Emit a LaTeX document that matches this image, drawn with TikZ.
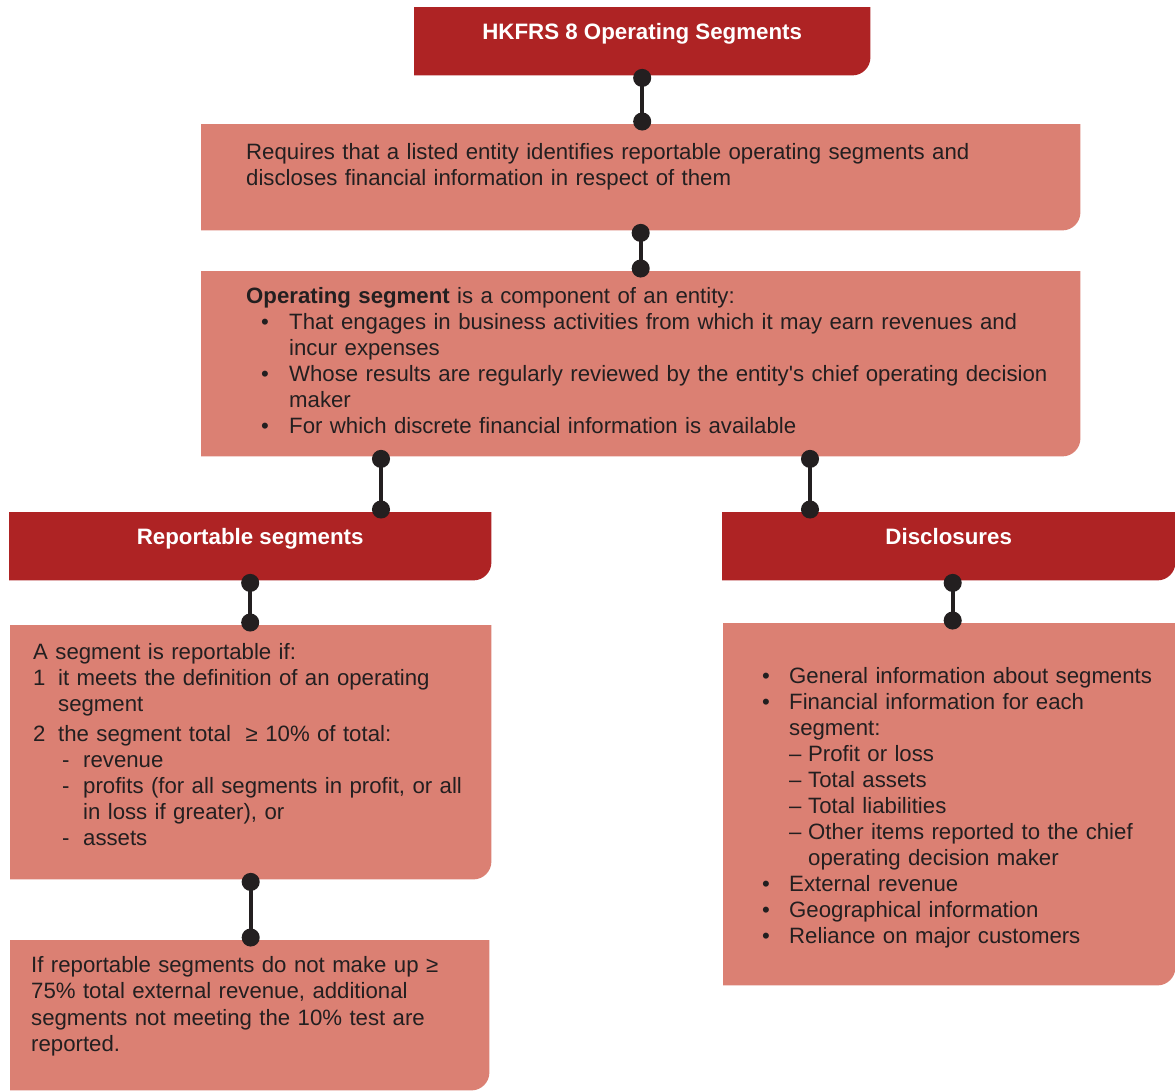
\documentclass[tikz,border=0pt]{standalone}
\usepackage{fontspec}
\setmainfont{Liberation Sans}
\usetikzlibrary{positioning,arrows.meta,backgrounds}

\definecolor{hdrred}{RGB}{174,35,36}
\definecolor{boxpink}{RGB}{219,128,115}
\definecolor{ink}{RGB}{35,31,32}

% list line with hanging indent: symbol, indent, text
\newcommand{\segitem}[3]{\par\hangindent=#2\hangafter=1\noindent\makebox[#2][l]{#1}#3}
% box fill with only the lower right corner rounded
\newcommand{\cornerfill}[2]{\fill[#2] (#1.south west) -- (#1.north west) -- (#1.north east)
  -- ([yshift=18pt]#1.south east) arc[start angle=0,end angle=-90,radius=18pt] -- cycle;}

\tikzset{
  frame/.style={anchor=north west, inner sep=0pt},
  hdr/.style={anchor=north west, inner sep=0pt, text height=32pt, text depth=36pt,
    text=white, font=\fontsize{22.3pt}{26pt}\selectfont\bfseries},
  txt/.style={anchor=north west, inner sep=0pt, align=left, text=ink,
    font=\fontsize{22.2pt}{26pt}\selectfont},
  link/.style={draw=ink, line width=4pt, {Circle[length=18pt]}-{Circle[length=18pt]},
    shorten <=-6.5pt, shorten >=-6.5pt}
}

\begin{document}
\begin{tikzpicture}[x=1pt,y=1pt]
  \useasboundingbox (0,0) rectangle (1175,-1090);

  % boxes
  \node[hdr, minimum width=456pt] (hkfrs) at (414,-7) {HKFRS 8 Operating Segments};
  \node[frame, minimum width=879pt, minimum height=106pt] (req) at (201,-124) {};
  \node[frame, minimum width=879pt, minimum height=185pt] (opseg) at (201,-271) {};
  \node[hdr, minimum width=482pt] (repseg) at (9,-512) {Reportable segments};
  \node[hdr, minimum width=453pt] (discl) at (722,-512) {Disclosures};
  \node[frame, minimum width=481pt, minimum height=254pt] (repif) at (10,-625) {};
  \node[frame, minimum width=479pt, minimum height=150pt] (extra) at (10,-940) {};
  \node[frame, minimum width=452pt, minimum height=362pt] (disclist) at (723,-623) {};

  \begin{scope}[on background layer]
    \foreach \n/\c in {hkfrs/hdrred, repseg/hdrred, discl/hdrred, req/boxpink, opseg/boxpink,
      repif/boxpink, extra/boxpink, disclist/boxpink}
      {\cornerfill{\n}{\c}}
  \end{scope}

  % texts
  \node[txt, text width=820pt] (reqtext) at ([xshift=45pt,yshift=-19pt]req.north west)
    {Requires that a listed entity identifies reportable operating segments and\\
     discloses financial information in respect of them};
  \node[txt, text width=830pt] (opsegtext) at ([xshift=45pt,yshift=-16pt]opseg.north west)
    {\textbf{Operating segment} is a component of an entity:
     \segitem{\hspace{15pt}•}{43pt}{That engages in business activities from which it may earn revenues and\newline incur expenses}
     \segitem{\hspace{15pt}•}{43pt}{Whose results are regularly reviewed by the entity\textquotesingle s chief operating decision\newline maker}
     \segitem{\hspace{15pt}•}{43pt}{For which discrete financial information is available}};
  \node[txt, text width=450pt] (repiftext) at ([xshift=23pt,yshift=-18pt]repif.north west)
    {A segment is reportable if:
     \segitem{1}{25pt}{it meets the definition of an operating\newline segment}
     \par\vspace{4pt}
     \segitem{2}{25pt}{the segment total\ \ ≥ 10\% of total:}
     \segitem{\hspace{29pt}-}{50pt}{revenue}
     \segitem{\hspace{29pt}-}{50pt}{profits (for all segments in profit, or all\newline in loss if greater), or}
     \segitem{\hspace{29pt}-}{50pt}{assets}};
  \node[txt, text width=450pt, font=\fontsize{22.2pt}{26.5pt}\selectfont] (extratext)
    at ([xshift=21pt,yshift=-16pt]extra.north west)
    {If reportable segments do not make up ≥\\
     75\% total external revenue, additional\\
     segments not meeting the 10\% test are\\
     reported.};
  \node[txt, text width=410pt] (discltext) at ([xshift=39pt,yshift=-34pt]disclist.north west)
    {\segitem{•}{27pt}{General information about segments}
     \segitem{•}{27pt}{Financial information for each\newline segment:}
     \segitem{\hspace{27pt}–}{46pt}{Profit or loss}
     \segitem{\hspace{27pt}–}{46pt}{Total assets}
     \segitem{\hspace{27pt}–}{46pt}{Total liabilities}
     \segitem{\hspace{27pt}–}{46pt}{Other items reported to the chief\newline operating decision maker}
     \segitem{•}{27pt}{External revenue}
     \segitem{•}{27pt}{Geographical information}
     \segitem{•}{27pt}{Reliance on major customers}};

  % connectors
  \coordinate (toRep) at ([xshift=180pt]opseg.south west);
  \coordinate (toDis) at ([xshift=609pt]opseg.south west);
  \coordinate (toList) at ([xshift=4pt]discl.south);
  \draw[link] (hkfrs.south) -- (hkfrs.south |- req.north);
  \draw[link] (req.south) -- (req.south |- opseg.north);
  \draw[link] (toRep) -- (toRep |- repseg.north);
  \draw[link] (toDis) -- (toDis |- discl.north);
  \draw[link] (repseg.south) -- (repseg.south |- repif.north);
  \draw[link] (toList) -- (toList |- disclist.north);
  \draw[link] (repif.south) -- (repif.south |- extra.north);
\end{tikzpicture}
\end{document}
